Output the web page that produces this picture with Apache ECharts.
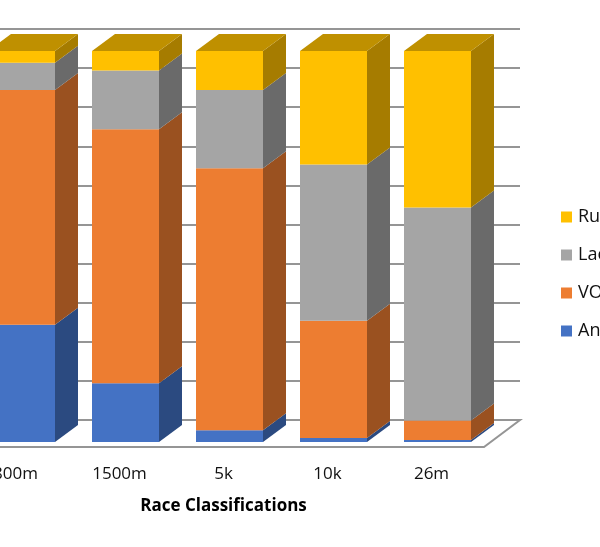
<!DOCTYPE html>
<html><head><meta charset="utf-8">
<style>html,body{margin:0;padding:0;background:#fff;overflow:hidden;width:600px;height:547px}#wrap{position:relative;width:600px;height:547px;overflow:hidden}#c{position:absolute;left:-40px;top:0;width:640px;height:547px}</style>
<script src="https://cdn.jsdelivr.net/npm/echarts@6/dist/echarts.min.js"></script>
</head><body><div id="wrap"><div id="c"></div></div>
<script>
const categories = ['800m', '1500m', '5k', '10k', '26m'];
const anaerobic = [30, 15, 3, 1, 0.5];
const vo2 = [60, 65, 67, 30, 5];
const lactate = [7, 15, 20, 40, 54.5];
const running = [3, 5, 10, 29, 40];
const seriesNames = ['An', 'VO', 'Lac', 'Ru'];
const seriesValues = [anaerobic, vo2, lactate, running];
const frontColors = ['#4472C4', '#ED7D31', '#A5A5A5', '#FFC000'];
const sideColors = ['#2B4A80', '#9A5120', '#6A6A6A', '#A67C00'];
const topColor = '#BF9000';
const wallTicks = [0, 100];

const DX = 23, DY = -17, BAR_RATIO = 67 / 104;
const lineCol = '#959595';

function stackRows(i) {
  return categories.map((c, k) => {
    let s = 0;
    for (let j = 0; j < i; j++) s += seriesValues[j][k];
    return [k, s, s + seriesValues[i][k]];
  });
}
function barSeries(i) {
  const last = i === seriesValues.length - 1;
  return {
    type: 'custom', name: seriesNames[i], xAxisIndex: 0, yAxisIndex: 0, clip: false, z: 5,
    itemStyle: { color: frontColors[i] },
    data: stackRows(i),
    encode: { x: 0, y: [1, 2] },
    renderItem(params, api) {
      const k = api.value(0);
      const p0 = api.coord([k, api.value(1)]);
      const p1 = api.coord([k, api.value(2)]);
      const w = api.size([1, 0])[0] * BAR_RATIO;
      const l = p0[0] - w / 2, r = p0[0] + w / 2;
      const children = [
        { type: 'polygon', shape: { points: [[r, p0[1]], [r + DX, p0[1] + DY], [r + DX, p1[1] + DY], [r, p1[1]]] }, style: { fill: sideColors[i] } },
        { type: 'rect', shape: { x: l, y: p1[1], width: w, height: p0[1] - p1[1] }, style: { fill: frontColors[i] } }
      ];
      if (last) children.push({ type: 'polygon', shape: { points: [[l, p1[1]], [l + DX, p1[1] + DY], [r + DX, p1[1] + DY], [r, p1[1]]] }, style: { fill: topColor } });
      return { type: 'group', children };
    }
  };
}
const floorSeries = {
  type: 'custom', name: 'floor', xAxisIndex: 0, yAxisIndex: 0, clip: false, z: 2, silent: true,
  data: [[categories.length - 1, 0]],
  renderItem(params, api) {
    const p = api.coord([api.value(0), api.value(1)]);
    const band = api.size([1, 0])[0];
    const xr = p[0] + band / 2 - 5.5, yf = p[1] + 5;
    return { type: 'polyline', shape: { points: [[0, yf], [xr, yf], [xr + 36, yf - 27], [0, yf - 27]] },
      style: { fill: '#fff', stroke: lineCol, lineWidth: 2 } };
  }
};

const chart = echarts.init(document.getElementById('c'), null, { renderer: 'canvas' });
chart.setOption({
  animation: false,
  backgroundColor: '#fff',
  legend: {
    orient: 'vertical', left: 601, top: 208, itemWidth: 11, itemHeight: 11, itemGap: 20, padding: 0,
    icon: 'rect', selectedMode: false,
    data: seriesNames.slice().reverse(),
    textStyle: { fontFamily: 'Open Sans', fontSize: 18, color: '#111', padding: [0, 0, 0, 1] }
  },
  grid: [
    { left: 9.5, width: 520, top: 51, height: 391 },
    { left: 0, right: 80, top: 29, height: 391 }
  ],
  xAxis: [
    { type: 'category', gridIndex: 0, data: categories,
      axisLine: { show: false }, axisTick: { show: false }, splitLine: { show: false },
      axisLabel: { show: true, interval: 0, margin: 24, padding: [0, 12, 0, 0], fontFamily: 'Open Sans', fontSize: 17, color: '#111' },
      name: 'Race Classifications', nameLocation: 'middle', nameGap: 56,
      nameTextStyle: { fontFamily: 'Open Sans', fontSize: 17, fontWeight: 'bold', color: '#000', padding: [0, 12, 0, 0] } },
    { type: 'value', gridIndex: 1, show: false }
  ],
  yAxis: [
    { type: 'value', gridIndex: 0, min: 0, max: 100, show: false },
    { type: 'value', gridIndex: 1, min: wallTicks[0], max: wallTicks[1], interval: 10,
      axisLine: { show: false }, axisTick: { show: false }, axisLabel: { show: false },
      splitLine: { show: true, lineStyle: { color: lineCol, width: 2 } } }
  ],
  series: [floorSeries].concat(seriesValues.map((v, i) => barSeries(i)))
});
</script></body></html>
